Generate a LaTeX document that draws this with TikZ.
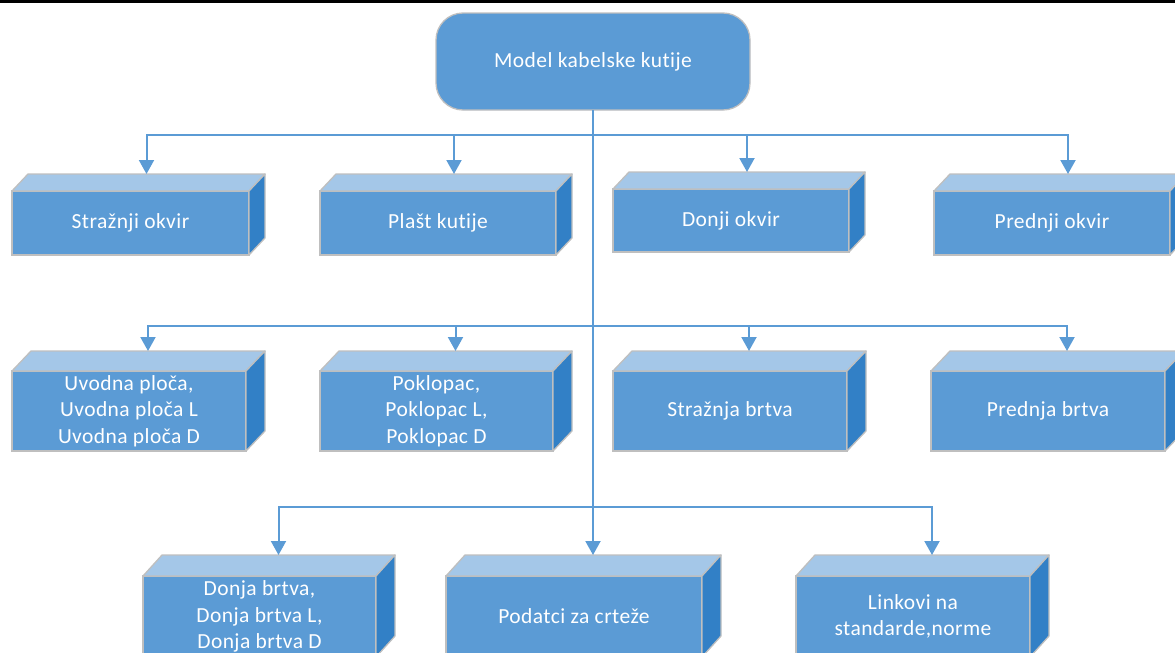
\documentclass[tikz,border=0pt]{standalone}
\usepackage{fontspec}
\setmainfont{Carlito}[LetterSpace=2, Ligatures={NoCommon}]
\usetikzlibrary{arrows.meta,calc}
\definecolor{frontc}{HTML}{5B9BD5}
\definecolor{topc}{HTML}{A4C7E8}
\definecolor{sidec}{HTML}{3280C6}
\definecolor{edgec}{HTML}{BFBFBF}
\definecolor{linec}{HTML}{5B9BD5}
\tikzset{
  frontbox/.style={draw=edgec, line width=1.3pt, fill=frontc, inner sep=0pt, outer sep=0pt,
    align=center, text=white, font=\fontsize{21.5}{26.5}\selectfont},
  facetop/.style={draw=edgec, line width=1.3pt, fill=topc, line join=round},
  faceside/.style={draw=edgec, line width=1.3pt, fill=sidec, line join=round},
  topbox/.style={draw=edgec, line width=1.3pt, fill=frontc, rounded corners=27pt, inner sep=0pt,
    outer sep=0pt, text=white, font=\fontsize{21.5}{26.5}\selectfont},
  conn/.style={draw=linec, line width=2pt},
  arr/.style={conn, -{Triangle[width=15pt,length=14pt]}},
}
% name, x1, y1, x2, y2, dx, dy, text
\newcommand\mycuboid[8]{%
  \node[frontbox, minimum width={#4-#2}, minimum height={#5-#3}] (#1) at ({(#2+#4)/2},{(#3+#5)/2}) {#8};
  \draw[facetop] (#1.north west) -- ++(#6,-#7) -- ($(#1.north east)+(#6,-#7)$) -- (#1.north east) -- cycle;
  \draw[faceside] (#1.north east) -- ++(#6,-#7) -- ($(#1.south east)+(#6,-#7)$) -- (#1.south east) -- cycle;
  \coordinate (#1-t) at ($(#1.north)+(#6,-#7)$);
}
\begin{document}
\begin{tikzpicture}[x=1pt,y=-1pt]
\useasboundingbox (0,0) rectangle (1175,653);
\clip (0,0) rectangle (1175,653);
\fill[black] (0,0) rectangle (1175,2.8);

\node[topbox, minimum width=314, minimum height=97] (top) at (593,61.5) {Model kabelske kutije};

% row 1
\mycuboid{b1}{12}{191}{249}{255}{16}{17}{Stražnji okvir}
\mycuboid{b2}{320}{191}{556}{255}{16}{17}{Plašt kutije}
\mycuboid{b3}{613}{189}{849}{252}{16}{17}{Donji okvir}
\mycuboid{b4}{934}{191}{1170}{255}{16}{17}{Prednji okvir}
% row 2
\mycuboid{b5}{12}{371}{246}{451}{19}{20}{Uvodna ploča,\\Uvodna ploča L\\Uvodna ploča D}
\mycuboid{b6}{320}{371}{553}{451}{19}{20}{Poklopac,\\Poklopac L,\\Poklopac D}
\mycuboid{b7}{613}{371}{847}{451}{19}{20}{Stražnja brtva}
\mycuboid{b8}{931}{371}{1165}{451}{19}{20}{Prednja brtva}
% row 3
\mycuboid{b9}{143}{576}{376}{657}{19}{21}{Donja brtva,\\Donja brtva L,\\Donja brtva D}
\mycuboid{b10}{446}{576}{702}{657}{19}{21}{Podatci za crteže}
\mycuboid{b11}{796}{576}{1030}{657}{19}{21}{Linkovi na\\standarde,norme}

% connectors
\coordinate (j1) at (593,135);
\coordinate (j2) at (593,326);
\coordinate (j3) at (593,507);
\draw[arr] (top.south) -- (b10-t);
\foreach \b in {b1,b2,b3,b4} { \draw[arr] (j1) -| (\b-t); }
\foreach \b in {b5,b6,b7,b8} { \draw[arr] (j2) -| (\b-t); }
\foreach \b in {b9,b11} { \draw[arr] (j3) -| (\b-t); }
\end{tikzpicture}
\end{document}
